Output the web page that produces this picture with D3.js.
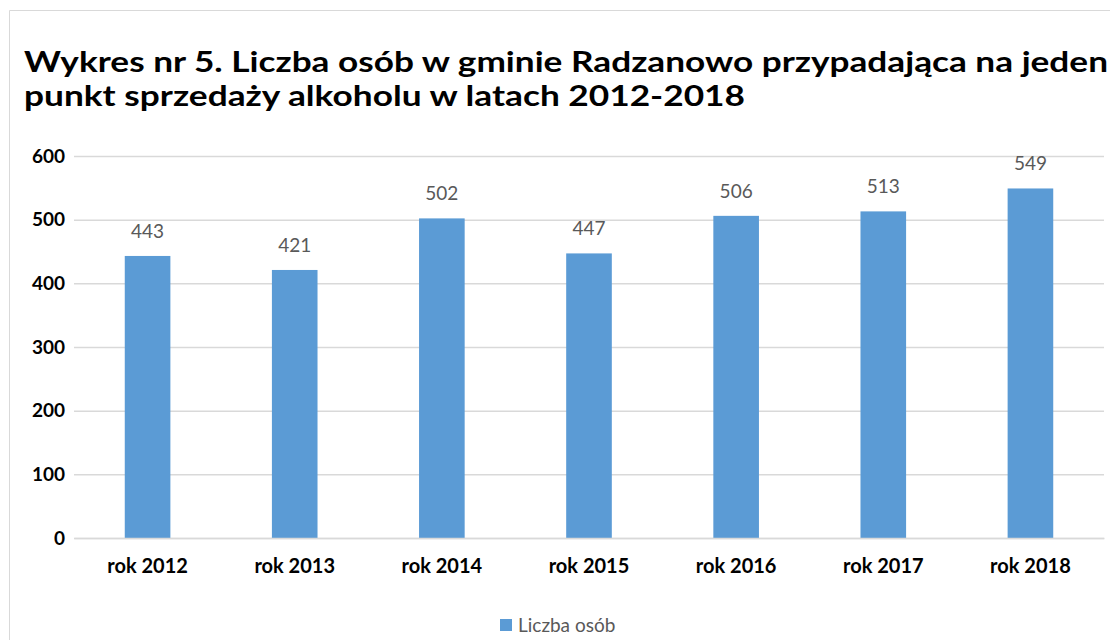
<!DOCTYPE html>
<html lang="pl">
<head>
  <meta charset="UTF-8">
  <title>Wykres nr 5</title>
  <script src="https://d3js.org/d3.v7.min.js"></script>
  <style>
    * { margin: 0; padding: 0; box-sizing: border-box; }
    body { background: #fff; font-family: Lato, "Open Sans", sans-serif; }
  </style>
</head>
<body>
  <div id="chart"></div>
  <script>
    const categories = ["rok 2012", "rok 2013", "rok 2014", "rok 2015", "rok 2016", "rok 2017", "rok 2018"];
    const values = [443, 421, 502, 447, 506, 513, 549];
    const yTicks = [0, 100, 200, 300, 400, 500, 600];
    const seriesName = "Liczba osób";
    const titleLines = [
      "Wykres nr 5. Liczba osób w gminie Radzanowo przypadająca na jeden",
      "punkt sprzedaży alkoholu w latach 2012-2018"
    ];

    const W = 1110, H = 640;
    const plot = {left: 74, right: 1104, top: 156, bottom: 538};

    const svg = d3.select("#chart").append("svg")
      .attr("width", W).attr("height", H);

    // ramka wykresu (widoczna lewa i górna krawędź)
    svg.append("path")
      .attr("d", `M9.5,${H} V10.5 H${W}`)
      .attr("fill", "none")
      .attr("stroke", "#d9d9d9");

    // tytuł
    const titleWidths = [1084, 721];
    svg.selectAll(".title")
      .data(titleLines)
      .enter().append("text")
      .attr("class", "title")
      .attr("x", 24)
      .attr("y", (d, i) => 72 + i * 34)
      .attr("textLength", (d, i) => titleWidths[i])
      .attr("lengthAdjust", "spacingAndGlyphs")
      .style("font-size", "28px")
      .style("font-weight", "bold")
      .style("fill", "#000")
      .text(d => d);

    const x = d3.scaleBand()
      .domain(categories)
      .range([plot.left, plot.right])
      .paddingInner(0.69)
      .paddingOuter(0.345);

    const y = d3.scaleLinear()
      .domain([0, 600])
      .range([plot.bottom, plot.top]);

    // siatka
    svg.append("g")
      .attr("transform", `translate(${plot.left},0)`)
      .call(d3.axisLeft(y).tickValues(yTicks).tickSize(-(plot.right - plot.left)).tickFormat(""))
      .call(g => g.select(".domain").remove())
      .call(g => g.selectAll("line").attr("stroke", "#d9d9d9").attr("stroke-width", 1.5));

    // oś Y
    svg.append("g")
      .attr("transform", `translate(${plot.left},0)`)
      .call(d3.axisLeft(y).tickValues(yTicks).tickSize(0).tickPadding(9))
      .call(g => g.select(".domain").remove())
      .call(g => g.selectAll("text")
        .style("font-family", "Lato, sans-serif")
        .style("font-size", "19px")
        .style("font-weight", "bold")
        .style("fill", "#000"));

    // słupki
    svg.selectAll(".bar")
      .data(values)
      .enter().append("rect")
      .attr("class", "bar")
      .attr("x", (d, i) => x(categories[i]))
      .attr("y", d => y(d))
      .attr("width", x.bandwidth())
      .attr("height", d => y(0) - y(d))
      .attr("fill", "#5b9bd5");

    // oś X
    svg.append("g")
      .attr("transform", `translate(0,${plot.bottom})`)
      .call(d3.axisBottom(x).tickSize(0).tickPadding(21))
      .call(g => g.select(".domain").attr("stroke", "#d9d9d9").attr("stroke-width", 1.5))
      .call(g => g.selectAll("text")
        .style("font-family", "Lato, sans-serif")
        .style("font-size", "20px")
        .style("font-weight", "bold")
        .style("fill", "#000"));

    // etykiety wartości
    svg.selectAll(".label")
      .data(values)
      .enter().append("text")
      .attr("class", "label")
      .attr("x", (d, i) => x(categories[i]) + x.bandwidth() / 2)
      .attr("y", d => y(d) - 18)
      .attr("text-anchor", "middle")
      .style("font-size", "19px")
      .style("fill", "#595959")
      .text(d => d);

    // legenda
    const legend = svg.append("g").attr("transform", "translate(500,619)");
    legend.append("rect")
      .attr("width", 12).attr("height", 12)
      .attr("fill", "#5b9bd5");
    legend.append("text")
      .attr("x", 18).attr("y", 13)
      .style("font-size", "19px")
      .style("fill", "#595959")
      .text(seriesName);
  </script>
</body>
</html>
